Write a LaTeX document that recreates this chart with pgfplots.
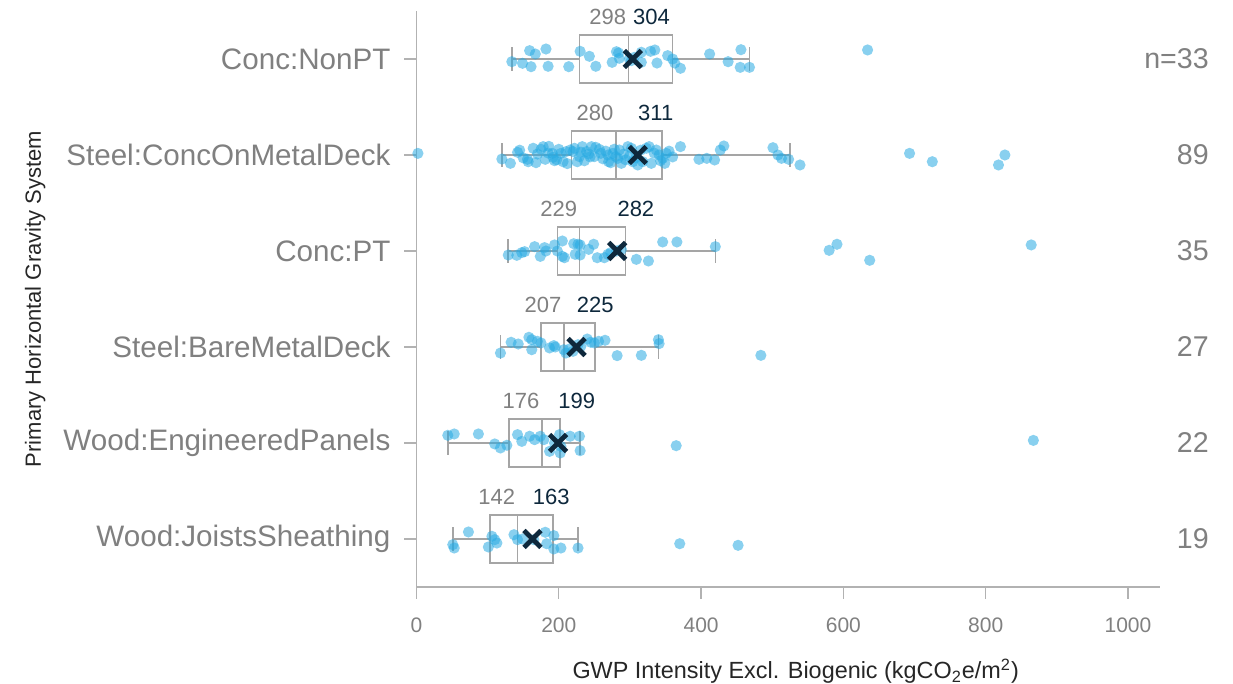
\documentclass[border=0pt]{standalone}
\usepackage{fontspec}
\setmainfont{Liberation Sans}
\usepackage{pgfplots}
\usepackage{pgfplotstable}
\pgfplotsset{compat=1.18}
\usepgfplotslibrary{statistics}

\definecolor{dotblue}{RGB}{40,170,226}
\definecolor{boxgray}{RGB}{165,165,165}
\definecolor{axisgray}{RGB}{178,178,178}
\definecolor{textgray}{RGB}{128,128,128}
\definecolor{meandark}{RGB}{14,40,60}

% jittered observations, one table per system (y = row + jitter)
\pgfplotstableread{
x y
134 4.972
149 4.955
159 5.087
161 4.920
167 5.052
182 5.104
185 4.924
214 4.920
230 5.080
243 5.028
252 4.924
275 4.965
281 5.076
284 5.063
285 5.007
299 5.000
302 4.983
306 5.017
316 5.070
316 4.965
329 5.080
335 5.094
338 4.958
353 5.035
360 5.000
363 4.958
371 4.903
412 5.052
438 4.972
456 5.097
455 4.913
468 4.913
634 5.094
}\concnonpt

\pgfplotstableread{
x y
2 4.017
120 3.958
132 3.913
142 4.028
145 4.050
150 3.970
156 3.955
157 3.930
164 4.070
168 3.920
170 4.010
175 4.060
178 4.087
181 3.955
185 4.020
186 4.090
191 4.017
192 3.976
194 3.941
197 3.950
200 4.059
203 4.017
206 3.930
210 4.035
212 3.910
216 4.052
220 4.035
222 4.070
226 3.930
229 3.983
231 4.030
233 4.087
236 3.940
239 4.035
242 4.010
244 3.980
246 4.087
250 3.983
252 4.080
257 4.059
259 4.017
262 3.960
266 4.040
269 4.000
270 3.930
273 3.920
276 4.017
278 4.060
280 3.983
283 3.965
285 4.052
288 3.913
291 4.010
294 3.950
297 4.087
299 3.983
302 4.070
304 3.930
308 3.970
311 3.896
315 4.050
318 3.930
323 4.070
327 4.087
330 3.913
334 4.020
337 4.052
341 4.000
343 3.940
346 3.965
349 3.913
351 4.017
355 4.040
360 3.980
371 4.087
397 3.955
408 3.965
419 3.948
427 4.052
432 4.094
501 4.076
508 4.000
513 3.965
523 3.955
539 3.896
693 4.017
725 3.930
818 3.896
827 4.000
}\steelconc

\pgfplotstableread{
x y
129 2.958
141 2.955
148 2.983
152 2.993
166 3.045
174 2.944
180 3.035
182 3.000
194 3.063
198 3.000
205 3.104
205 2.944
208 2.930
221 3.076
223 2.965
227 3.070
230 3.063
230 2.958
242 3.017
249 3.070
254 2.930
264 2.930
269 2.965
273 2.983
281 3.000
288 3.017
309 2.913
326 2.896
346 3.094
366 3.094
420 3.045
580 3.007
591 3.070
637 2.903
864 3.063
}\concpt

\pgfplotstableread{
x y
118 1.937
133 2.049
143 2.031
158 2.101
162 2.076
162 1.972
170 2.059
175 2.042
187 1.990
193 2.014
195 2.000
207 1.972
210 1.937
215 1.979
220 1.955
227 2.024
231 2.007
240 2.083
245 2.049
250 2.042
256 2.059
265 2.070
282 1.910
316 1.913
340 2.076
341 2.035
484 1.913
}\steelbare

\pgfplotstableread{
x y
44 1.080
53 1.094
87 1.094
110 0.990
118 0.948
127 0.976
142 1.087
148 1.017
159 1.070
166 1.035
174 1.070
179 1.035
187 0.913
194 1.000
201 1.087
202 0.896
203 0.965
216 1.070
229 1.070
230 0.920
365 0.972
867 1.027
}\woodpanels

\pgfplotstableread{
x y
51 -0.059
53 -0.094
73 0.073
101 -0.083
106 0.028
110 -0.007
113 -0.042
137 0.045
142 -0.007
149 0.000
165 -0.007
181 0.070
183 -0.049
193 0.035
193 -0.104
203 -0.094
227 -0.094
370 -0.049
452 -0.066
}\woodjoists

\begin{document}
\begin{tikzpicture}
\useasboundingbox (0,0) rectangle (616.5pt,342pt);
\begin{axis}[
    at={(208.25pt,48.5pt)}, anchor=south west,
    scale only axis,
    width=371.75pt, height=288pt,
    xmin=0, xmax=1045,
    ymin=-0.5, ymax=5.5,
    clip=false,
    axis lines=left,
    axis line style={draw=axisgray, line width=0.6pt, -},
    tick style={draw=axisgray, line width=0.6pt},
    tick align=outside,
    major tick length=6pt,
    xtick={0,200,400,600,800,1000},
    ytick={0,1,2,3,4,5},
    yticklabels={Wood:JoistsSheathing, Wood:EngineeredPanels, Steel:BareMetalDeck, Conc:PT, Steel:ConcOnMetalDeck, Conc:NonPT},
    xtick pos=bottom, ytick pos=left,
    /pgf/number format/assume math mode=true,
    /pgf/number format/1000 sep={},
    xticklabel style={font=\fontsize{10.5}{12}\selectfont, text=textgray, yshift=-6pt},
    yticklabel style={font=\fontsize{14.8}{16}\selectfont, text=textgray, xshift=-3.5pt},
    xlabel={GWP Intensity Excl. Biogenic (kgCO\textsubscript{2}e/m\textsuperscript{2})},
    ylabel={Primary Horizontal Gravity System},
    every axis x label/.style={at={(axis description cs:0.510,-0.146)}, anchor=center, font=\fontsize{11.7}{13}\selectfont, text=black!85},
    every axis y label/.style={at={(axis description cs:-0.513,0.5)}, anchor=center, rotate=90, font=\fontsize{11}{13}\selectfont, text=black!85},
    boxplot/draw direction=x,
]
% boxes: whiskers, quartiles, median
\pgfplotsset{boxstyle/.style={draw=boxgray, line width=0.8pt, solid, mark=none}}
\addplot[boxstyle, boxplot prepared={draw position=5, lower whisker=134, lower quartile=229, median=298, upper quartile=360, upper whisker=468, box extend=0.5, whisker extend=0.24}] coordinates {};
\addplot[boxstyle, boxplot prepared={draw position=4, lower whisker=120, lower quartile=218, median=280, upper quartile=345, upper whisker=525, box extend=0.5, whisker extend=0.24}] coordinates {};
\addplot[boxstyle, boxplot prepared={draw position=3, lower whisker=129, lower quartile=198, median=229, upper quartile=294, upper whisker=420, box extend=0.5, whisker extend=0.24}] coordinates {};
\addplot[boxstyle, boxplot prepared={draw position=2, lower whisker=118, lower quartile=175, median=207, upper quartile=251, upper whisker=340, box extend=0.5, whisker extend=0.24}] coordinates {};
\addplot[boxstyle, boxplot prepared={draw position=1, lower whisker=44, lower quartile=130, median=176, upper quartile=202, upper whisker=230, box extend=0.5, whisker extend=0.24}] coordinates {};
\addplot[boxstyle, boxplot prepared={draw position=0, lower whisker=51, lower quartile=103, median=142, upper quartile=192, upper whisker=227, box extend=0.5, whisker extend=0.24}] coordinates {};

% observations
\pgfplotsset{dots/.style={only marks, mark=*, mark size=2.8pt, color=dotblue, mark options={fill=dotblue, fill opacity=0.55, draw opacity=0}}}
\addplot[dots] table {\concnonpt};
\addplot[dots] table {\steelconc};
\addplot[dots] table {\concpt};
\addplot[dots] table {\steelbare};
\addplot[dots] table {\woodpanels};
\addplot[dots] table {\woodjoists};

% means
\addplot[only marks, mark=x, mark size=6pt, mark options={line width=2.4pt, draw=meandark}] coordinates {
    (304,5) (311,4) (282,3) (225,2) (199,1) (163,0)
};

% median (grey) and mean (dark) labels
\begin{scope}[font=\fontsize{11}{13}\selectfont]
\node[anchor=base east, inner sep=1pt, text=textgray] at (axis cs:298,5.357) {298};
\node[anchor=base west, inner sep=0pt, text=meandark] at (axis cs:304,5.357) {304};
\node[anchor=base east, inner sep=1pt, text=textgray] at (axis cs:280,4.357) {280};
\node[anchor=base west, inner sep=0pt, text=meandark] at (axis cs:311,4.357) {311};
\node[anchor=base east, inner sep=1pt, text=textgray] at (axis cs:229,3.357) {229};
\node[anchor=base west, inner sep=0pt, text=meandark] at (axis cs:282,3.357) {282};
\node[anchor=base east, inner sep=1pt, text=textgray] at (axis cs:207,2.357) {207};
\node[anchor=base west, inner sep=0pt, text=meandark] at (axis cs:225,2.357) {225};
\node[anchor=base east, inner sep=1pt, text=textgray] at (axis cs:176,1.357) {176};
\node[anchor=base west, inner sep=0pt, text=meandark] at (axis cs:199,1.357) {199};
\node[anchor=base east, inner sep=1pt, text=textgray] at (axis cs:142,0.357) {142};
\node[anchor=base west, inner sep=0pt, text=meandark] at (axis cs:163,0.357) {163};
\end{scope}

% sample sizes
\begin{scope}[font=\fontsize{14.3}{16}\selectfont, text=textgray]
\node[anchor=base east, inner sep=0pt] at (axis cs:1114,4.896) {n=33};
\node[anchor=base east, inner sep=0pt] at (axis cs:1114,3.896) {89};
\node[anchor=base east, inner sep=0pt] at (axis cs:1114,2.896) {35};
\node[anchor=base east, inner sep=0pt] at (axis cs:1114,1.896) {27};
\node[anchor=base east, inner sep=0pt] at (axis cs:1114,0.896) {22};
\node[anchor=base east, inner sep=0pt] at (axis cs:1114,-0.104) {19};
\end{scope}
\end{axis}
\end{tikzpicture}
\end{document}
